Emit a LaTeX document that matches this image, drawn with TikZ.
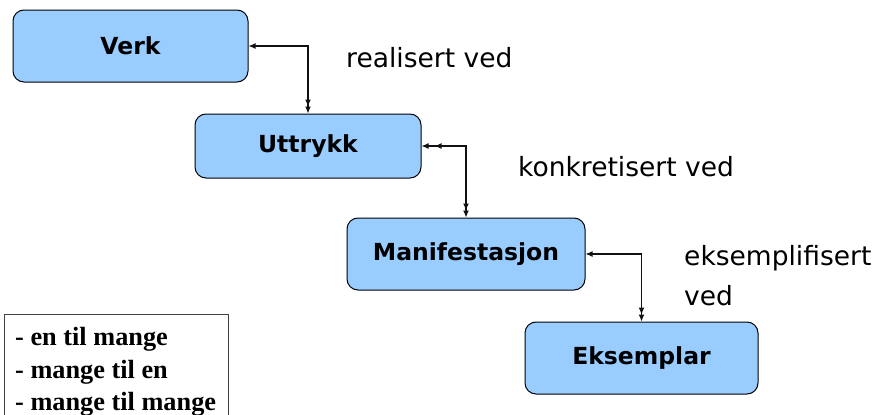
\documentclass[tikz,border=0pt]{standalone}
\usepackage{fontspec}
\setmainfont{DejaVu Sans}
\newfontfamily\legendfont{Liberation Serif}
\usetikzlibrary{arrows.meta}
\definecolor{boxblue}{HTML}{99CCFF}
\definecolor{linegray}{HTML}{111111}
\tikzset{
  entity/.style={draw=black, line width=1pt, fill=boxblue, rounded corners=11pt,
    inner sep=0pt, font=\fontsize{23.5}{28}\selectfont\bfseries},
  rel/.style={draw=linegray, line width=1.1pt},
  lbl/.style={anchor=base west, inner sep=0pt, font=\fontsize{26.5}{32}\selectfont},
  leg/.style={anchor=base west, inner sep=0pt, font=\legendfont\fontsize{26.3}{32}\selectfont\bfseries},
  one/.tip={Latex[length=7pt,width=6pt]},
  many/.tip={Latex[length=7pt,width=6pt,sep=0pt] Latex[length=7pt,width=6pt]},
  manyh/.tip={Latex[length=7pt,width=6pt,sep=6pt] Latex[length=7pt,width=6pt]}
}
\begin{document}
\begin{tikzpicture}[x=1pt,y=-1pt]
\useasboundingbox (0,0) rectangle (884,415);
\fill[white] (0,0) rectangle (884,415);

\node[entity, minimum width=235pt, minimum height=72pt] (verk) at (130.5,46) {Verk};
\node[entity, minimum width=226pt, minimum height=64pt] (uttr) at (308,146) {Uttrykk};
\node[entity, minimum width=238pt, minimum height=72pt] (mani) at (466,254) {Manifestasjon};
\node[entity, minimum width=233pt, minimum height=72pt] (eks) at (641.5,358) {Eksemplar};

\draw[rel, {one}-{many}] (verk.east) -| (uttr.north);
\draw[rel, {manyh}-{many}] (uttr.east) -| (mani.north);
\draw[rel, {one}-{many}] (mani.east) -| (eks.north);

\node[lbl] (r1) at (346,67) {realisert ved};
\node[lbl] (r2) at (518,176) {konkretisert ved};
\node[lbl] (r3a) at (684,265) {eksemplifisert};
\node[lbl] (r3b) at (684,305) {ved};

\begin{scope}
\clip (0,0) rectangle (884,415);
\draw[draw=black!75, line width=1pt] (4.5,314.5) rectangle (228.5,440);
\end{scope}
\node[leg] (l1) at (15,345.7) {- en til mange};
\node[leg] (l2) at (15,378.5) {- mange til en};
\node[leg] (l3) at (15,410.5) {- mange til mange};
\end{tikzpicture}
\end{document}
